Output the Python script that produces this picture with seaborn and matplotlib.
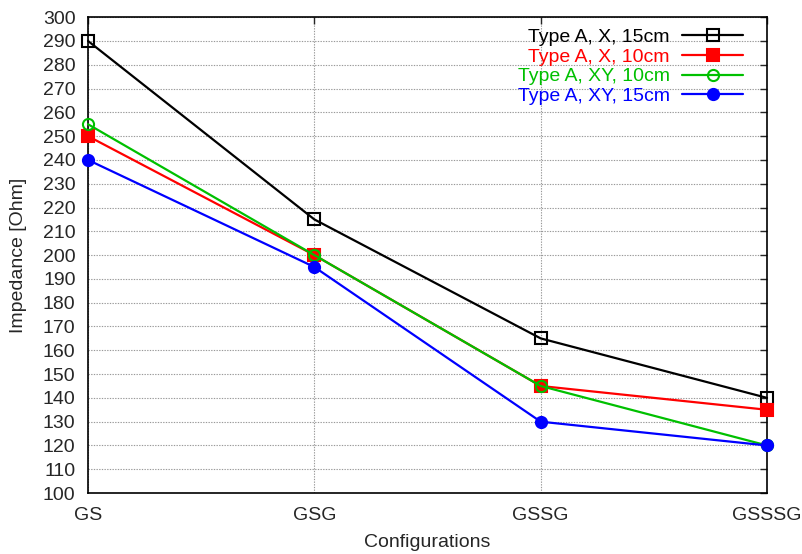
import matplotlib
matplotlib.use("Agg")
import matplotlib.pyplot as plt
import seaborn as sns
import pandas as pd

configs = ["GS", "GSG", "GSSG", "GSSSG"]
series_names = ["Type A, X, 15cm", "Type A, X, 10cm", "Type A, XY, 10cm", "Type A, XY, 15cm"]
vals_x15 = [290, 215, 165, 140]
vals_x10 = [250, 200, 145, 135]
vals_xy10 = [255, 200, 145, 120]
vals_xy15 = [240, 195, 130, 120]
yticks = list(range(100, 301, 10))

sns.set_style("white")
plt.rcParams['font.family'] = ['Liberation Sans', 'DejaVu Sans']

fig = plt.figure(figsize=(8.03, 5.54), dpi=100)
ax = fig.add_axes([0.1096, 0.110, 0.8456, 0.859])

styles = [
    (vals_x15, "black", "s", "none", 8.5),
    (vals_x10, "#ff0000", "s", "#ff0000", 8.5),
    (vals_xy10, "#00c000", "o", "none", 8),
    (vals_xy15, "#0000ff", "o", "#0000ff", 8),
]
pos = list(range(len(configs)))
for name, (vals, c, m, fc, ms) in zip(series_names, styles):
    df = pd.DataFrame({"x": pos, "y": vals})
    sns.lineplot(data=df, x="x", y="y", ax=ax, color=c, marker=m, markersize=ms,
                 markerfacecolor=fc, markeredgecolor=c, markeredgewidth=1.5,
                 linewidth=1.6, label=name, clip_on=False, zorder=3)

ax.set_xlim(0, 3)
ax.set_ylim(100, 300)
ax.set_xticks(pos)
ax.set_xticklabels(configs, fontsize=14)
ax.set_yticks(yticks)
ax.set_yticklabels([str(v) for v in yticks], fontsize=14)
ax.tick_params(direction="in", top=True, right=True, length=5, width=1)
ax.tick_params(axis="x", pad=10)
ax.tick_params(axis="y", pad=9)
ax.grid(True, color="#999999", linestyle=(0, (1.2, 1.2)), linewidth=0.8)
for s in ax.spines.values():
    s.set_visible(True)
    s.set_color("black")
    s.set_linewidth(1.2)
ax.set_xlabel("Configurations", fontsize=14, labelpad=7)
ax.set_ylabel("Impedance [Ohm]", fontsize=14, labelpad=11)

leg = ax.legend(loc="upper right", bbox_to_anchor=(1.0, 1.027), frameon=False,
                markerfirst=False, fontsize=14,
                handlelength=3.1, handletextpad=0.65, labelspacing=0.1,
                borderaxespad=0.85, borderpad=0.4)
for t, st in zip(leg.get_texts(), styles):
    t.set_color(st[1])
    t.set_ha("right")

fig.savefig("out.png", dpi=100)
